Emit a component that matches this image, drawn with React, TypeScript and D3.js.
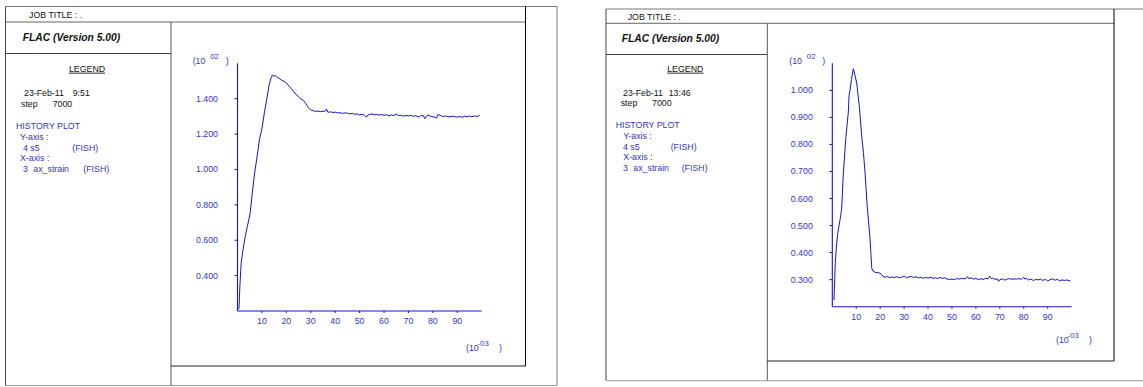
import React from "react";
import * as d3 from "d3";

// ---------- DATA ----------
const leftStrain = [0.6, 1.0, 1.5, 2.2, 3.0, 3.9, 4.7, 5.2, 6.0, 7.0, 8.0, 9.0, 10.0, 11.0, 12.0, 13.0, 13.8, 14.3, 14.8, 15.3, 16, 17, 18, 19, 20, 21, 22, 23, 24, 25, 26, 27, 28, 29, 30,
  31, 32, 33, 34, 35, 36, 36.5, 37, 38, 39, 40, 41, 42, 43, 44, 45, 46, 47, 48, 49, 50, 51, 52, 52.8, 53.5, 54, 55, 56, 57, 58, 59, 60, 61, 62, 63, 64, 65, 66, 67, 68, 69, 70,
  71, 72, 73, 74, 75, 76, 76.7, 77.5, 78, 79, 80, 81, 81.5, 82, 83, 84, 85, 86, 87, 88, 89, 90, 91, 92, 93, 94, 95, 96, 97, 98, 99.2];
const leftS5 = [0.21, 0.35, 0.47, 0.54, 0.61, 0.67, 0.72, 0.755, 0.86, 0.98, 1.07, 1.17, 1.23, 1.32, 1.40, 1.48, 1.52, 1.535, 1.526, 1.532, 1.524, 1.515, 1.506, 1.498, 1.49, 1.472, 1.458, 1.44, 1.425, 1.41, 1.398, 1.39, 1.372, 1.35, 1.336,
  1.332, 1.328, 1.330, 1.327, 1.329, 1.330, 1.341, 1.323, 1.326, 1.322, 1.324, 1.319, 1.321, 1.317, 1.320, 1.318, 1.314, 1.317, 1.312, 1.314, 1.308, 1.312, 1.306, 1.296, 1.309, 1.310, 1.314, 1.309, 1.311, 1.307, 1.310, 1.306, 1.309, 1.303, 1.308, 1.305, 1.313, 1.304, 1.307, 1.301, 1.305, 1.303,
  1.306, 1.300, 1.304, 1.297, 1.303, 1.306, 1.287, 1.304, 1.308, 1.301, 1.299, 1.294, 1.290, 1.310, 1.306, 1.299, 1.302, 1.300, 1.297, 1.301, 1.298, 1.296, 1.299, 1.295, 1.301, 1.297, 1.302, 1.298, 1.303, 1.299, 1.307];

const rightStrain = [0.7, 1.0, 1.25, 1.7, 2.25, 3.2, 3.9, 4.6, 5.7, 6.7, 7.0, 7.4, 8.0, 8.8, 9.5, 10.2, 11.3, 12.3, 13.0, 13.7, 14.6, 15.1, 15.8, 16.1, 16.5, 17.0, 17.9, 19, 19.9, 20.5, 21.3,
  22, 23, 24, 25, 26, 27, 28, 29, 30, 31, 32, 33, 34, 35, 36, 37, 38, 39, 40, 41, 42, 43, 44, 45, 46, 47, 48, 49, 50, 51, 52, 53, 54, 55, 56, 56.5, 57, 58, 59, 60, 61, 62, 63, 64, 65, 65.8, 66.5, 67, 68, 69, 69.5, 70,
  71, 72, 73, 74, 75, 76, 77, 78, 79, 79.9, 80.5, 81, 82, 83, 84, 85, 86, 87, 88, 89, 90, 91, 92, 93, 94, 95, 96, 97, 98, 99.5];
const rightS5 = [0.225, 0.30, 0.36, 0.42, 0.47, 0.52, 0.56, 0.69, 0.83, 0.92, 0.98, 1.0, 1.04, 1.08, 1.055, 1.027, 0.94, 0.83, 0.77, 0.694, 0.57, 0.52, 0.447, 0.40, 0.342, 0.332, 0.327, 0.326, 0.324, 0.32, 0.311,
  0.309, 0.312, 0.307, 0.310, 0.308, 0.311, 0.307, 0.309, 0.313, 0.307, 0.310, 0.312, 0.308, 0.311, 0.306, 0.309, 0.305, 0.308, 0.306, 0.309, 0.305, 0.307, 0.304, 0.308, 0.305, 0.307, 0.302, 0.301, 0.302, 0.300, 0.304, 0.302, 0.305, 0.303, 0.306, 0.311, 0.304, 0.307, 0.302, 0.305, 0.300, 0.303, 0.301, 0.305, 0.303, 0.313, 0.304, 0.306, 0.301, 0.303, 0.294, 0.300,
  0.303, 0.298, 0.302, 0.304, 0.301, 0.303, 0.302, 0.304, 0.301, 0.309, 0.302, 0.305, 0.299, 0.302, 0.297, 0.301, 0.299, 0.302, 0.297, 0.301, 0.295, 0.300, 0.303, 0.298, 0.301, 0.296, 0.299, 0.297, 0.299, 0.295];

const xTicks = [10, 20, 30, 40, 50, 60, 70, 80, 90];
const leftYTicks = [0.4, 0.6, 0.8, 1.0, 1.2, 1.4];
const rightYTicks = [0.3, 0.4, 0.5, 0.6, 0.7, 0.8, 0.9, 1.0];
const leftDate = ["23-Feb-11", "9:51"];
const rightDate = ["23-Feb-11", "13:46"];

// ---------- STYLE ----------
const FONT = "'Liberation Sans', Arial, sans-serif";
const BLUE_LINE = "#1414c4";
const BLUE_TEXT = "#3434c8";
const FS = 8.8;

type PanelGeom = {
  ox0: number; oy0: number; ox1: number; oy1: number;
  jobY: number; flacY: number; divX: number; plotR: number; plotB: number;
  ax0: number; ax1: number; ay0: number; ay1: number;
  yDomain: [number, number];
  xLabelY: number; xUnitX: number; xUnitY: number; yUnitX: number;
  jobX: number; flacX: number; flacBase: number; jobBase: number; legendCx: number;
  dateX: number; timeX: number; stepX: number; stepValX: number; histX: number; axX: number; itemX: number; strainX: number; fish1X: number; fish2X: number;
  baseDate: number; baseStep: number; baseHist: number; lh: number;
};

function Panel({ g, xs, ys, yTicks, date }: { g: PanelGeom; xs: number[]; ys: number[]; yTicks: number[]; date: string[] }) {
  const x = d3.scaleLinear().domain([0, 100]).range([g.ax0, g.ax1]);
  const y = d3.scaleLinear().domain(g.yDomain).range([g.ay0, g.ay1]);
  const pts: [number, number][] = xs.map((v, i) => [v, ys[i]]);
  const path = d3.line<[number, number]>().x((d) => x(d[0])).y((d) => y(d[1]))(pts) || "";
  const black = { fontFamily: FONT, fontSize: FS, fill: "#111" };
  const blue = { fontFamily: FONT, fontSize: FS, fill: BLUE_TEXT };
  return (
    <g>
      {/* frame */}
      <line x1={g.ox0} y1={g.oy0} x2={g.ox1} y2={g.oy0} stroke="#777" />
      <line x1={g.ox0} y1={g.oy0} x2={g.ox0} y2={g.oy1} stroke="#444" />
      <line x1={g.ox1} y1={g.oy0} x2={g.ox1} y2={g.oy1} stroke="#777" />
      <line x1={g.ox0} y1={g.oy1} x2={g.ox1} y2={g.oy1} stroke="#999" />
      <line x1={g.ox0} y1={g.jobY} x2={g.plotR} y2={g.jobY} stroke="#666" />
      <line x1={g.ox0} y1={g.flacY} x2={g.divX} y2={g.flacY} stroke="#444" />
      <line x1={g.divX} y1={g.jobY} x2={g.divX} y2={g.oy1} stroke="#555" />
      <line x1={g.plotR} y1={g.oy0} x2={g.plotR} y2={g.plotB} stroke="#000" />
      <line x1={g.divX} y1={g.plotB} x2={g.plotR} y2={g.plotB} stroke="#222" />

      {/* legend text */}
      <text x={g.jobX} y={g.jobBase} style={black}>JOB TITLE : .</text>
      <text x={g.flacX} y={g.flacBase} style={{ fontFamily: FONT, fontSize: 10.3, fontWeight: "bold", fontStyle: "italic", fill: "#111" }}>FLAC (Version 5.00)</text>
      <text x={g.legendCx} y={71.7} textAnchor="middle" style={black} textDecoration="underline">LEGEND</text>
      <text x={g.dateX} y={g.baseDate} style={black}>{date[0]}</text>
      <text x={g.timeX} y={g.baseDate} style={black}>{date[1]}</text>
      <text x={g.stepX} y={g.baseStep} style={black}>step</text>
      <text x={g.stepValX} y={g.baseStep} style={black}>7000</text>
      <text x={g.histX} y={g.baseHist} style={blue}>HISTORY PLOT</text>
      <text x={g.axX} y={g.baseHist + g.lh} style={blue}>Y-axis :</text>
      <text x={g.itemX} y={g.baseHist + 2 * g.lh} style={blue}>4 s5</text>
      <text x={g.fish1X} y={g.baseHist + 2 * g.lh} style={blue}>(FISH)</text>
      <text x={g.axX} y={g.baseHist + 3 * g.lh} style={blue}>X-axis :</text>
      <text x={g.itemX} y={g.baseHist + 4 * g.lh} style={blue}>3</text>
      <text x={g.strainX} y={g.baseHist + 4 * g.lh} style={blue}>ax_strain</text>
      <text x={g.fish2X} y={g.baseHist + 4 * g.lh} style={blue}>(FISH)</text>

      {/* axes */}
      <line x1={g.ax0} y1={g.ay0} x2={g.ax0} y2={g.ay1} stroke={BLUE_LINE} strokeWidth={1.1} />
      <line x1={g.ax0} y1={g.ay0} x2={g.ax1} y2={g.ay0} stroke={BLUE_LINE} strokeWidth={1.1} />
      {yTicks.map((t) => (
        <g key={"y" + t}>
          <line x1={g.ax0 - 3} x2={g.ax0} y1={y(t)} y2={y(t)} stroke={BLUE_LINE} />
          <text x={g.ax0 - 19.5} y={y(t) + 3} textAnchor="end" style={blue}>{t.toFixed(3)}</text>
        </g>
      ))}
      {xTicks.map((t) => (
        <g key={"x" + t}>
          <line x1={x(t)} x2={x(t)} y1={g.ay0} y2={g.ay0 + 2} stroke={BLUE_LINE} />
          <text x={x(t)} y={g.xLabelY} textAnchor="middle" style={blue}>{t}</text>
        </g>
      ))}
      {/* unit labels */}
      <text x={g.yUnitX} y={64} style={blue}>(10</text>
      <text x={g.yUnitX + 17.5} y={58.5} style={{ ...blue, fontSize: 7.8 }}>02</text>
      <text x={g.yUnitX + 33} y={64} style={blue}>)</text>
      <text x={g.xUnitX} y={g.xUnitY} style={blue}>(10</text>
      <text x={g.xUnitX + 11.5} y={g.xUnitY - 5} style={{ ...blue, fontSize: 7.8 }}>-03</text>
      <text x={g.xUnitX + 33} y={g.xUnitY} style={blue}>)</text>

      {/* curve */}
      <path d={path} fill="none" stroke={BLUE_LINE} strokeWidth={1} />
    </g>
  );
}

const leftGeom: PanelGeom = {
  ox0: 5.5, oy0: 6.5, ox1: 557, oy1: 385.5,
  jobY: 22, flacY: 53.5, divX: 171, plotR: 525.5, plotB: 366,
  ax0: 237.5, ax1: 481.7, ay0: 311, ay1: 63.3,
  yDomain: [0.2, 1.6],
  xLabelY: 324, xUnitX: 466, xUnitY: 350.7, yUnitX: 192.7,
  jobX: 29, flacX: 22.7, flacBase: 40.7, jobBase: 18.3, legendCx: 87,
  dateX: 24, timeX: 72.7, stepX: 21, stepValX: 52.7, histX: 16, axX: 20, itemX: 23, strainX: 33.3, fish1X: 72.3, fish2X: 83.3,
  baseDate: 95.7, baseStep: 106.7, baseHist: 129, lh: 10.8,
};

const rightGeom: PanelGeom = {
  ox0: 606, oy0: 9, ox1: 1150, oy1: 380.7,
  jobY: 23.3, flacY: 54.5, divX: 767.3, plotR: 1114, plotB: 361,
  ax0: 832.3, ax1: 1071.6, ay0: 306.7, ay1: 63.3,
  yDomain: [0.2, 1.1],
  xLabelY: 320, xUnitX: 1056, xUnitY: 343.3, yUnitX: 789.3,
  jobX: 627.7, flacX: 621.7, flacBase: 42.3, jobBase: 20.3, legendCx: 685.3,
  dateX: 623, timeX: 668.7, stepX: 620.7, stepValX: 652, histX: 615.7, axX: 623.3, itemX: 623, strainX: 633.3, fish1X: 670.7, fish2X: 681.7,
  baseDate: 95.7, baseStep: 106, baseHist: 128.3, lh: 10.6,
};

export default function App() {
  return (
    <svg width={1143} height={387} style={{ position: "absolute", left: 0, top: 0, background: "#fff" }}>
      <rect x={0} y={0} width={1143} height={387} fill="#fff" />
      <Panel g={leftGeom} xs={leftStrain} ys={leftS5} yTicks={leftYTicks} date={leftDate} />
      <Panel g={rightGeom} xs={rightStrain} ys={rightS5} yTicks={rightYTicks} date={rightDate} />
    </svg>
  );
}
